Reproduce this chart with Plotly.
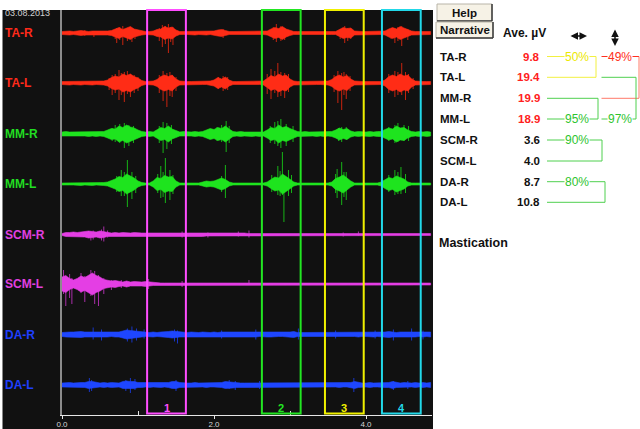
import numpy as np
import plotly.graph_objects as go

# ---------------------------------------------------------------- data ----
DATE = "03.08.2013"
DT = 0.05  # spacing of the envelope samples, seconds

CHANNELS = ["TA-R", "TA-L", "MM-R", "MM-L", "SCM-R", "SCM-L", "DA-R", "DA-L"]

# half-width of the dense part of each EMG trace, one value every DT seconds
TA_R_ENV = [1.5, 2, 2, 1.5, 2, 2.5, 2, 1.5, 2, 2,
            1.5, 2, 2, 2.5, 4, 5.5, 3.5, 5, 6.5, 4,
            3, 2, 1.5, 1.5, 2, 3.5, 4, 6.5, 5, 6,
            3, 1.5, 1.5, 1.5, 1.5, 2, 1.5, 1.5, 2, 1.5,
            2, 3, 3.5, 2.5, 1.5, 1.5, 1.5, 1.5, 1.5, 1.5,
            1.5, 1.5, 1.5, 1.5, 2, 4, 5.5, 4.5, 6.5, 4,
            2.5, 1.5, 1.5, 1.5, 1.5, 1.5, 1.5, 1.5, 1.5, 1.5,
            1.5, 1.5, 1.5, 3.5, 5.5, 4.5, 5, 2, 1.5, 1.5,
            1.5, 1.5, 1.5, 1.5, 1.5, 2, 4, 5.5, 4, 6.5,
            5, 3.5, 2, 1.5, 1.5, 1.5, 1.5, 1.5]
TA_L_ENV = [1.5, 1.5, 2, 1.5, 1.5, 2, 1.5, 1.5, 2, 1.5,
            1.5, 2, 3, 5.5, 7, 6, 9, 7.5, 9, 6.5,
            5, 2.5, 1.5, 1.5, 2, 3.5, 6.5, 8, 6.5, 8,
            4, 2, 1.5, 1.5, 1.5, 1.5, 1.5, 1.5, 1.5, 2,
            3, 5.5, 4, 6, 3, 1.5, 1.5, 1.5, 1.5, 1.5,
            1.5, 1.5, 1.5, 2, 4.5, 7.5, 6, 9, 7, 8,
            4, 2, 1.5, 1.5, 1.5, 1.5, 1.5, 1.5, 1.5, 1.5,
            2, 3.5, 6.5, 8, 6, 7.5, 4, 2, 1.5, 1.5,
            1.5, 1.5, 1.5, 1.5, 1.5, 3, 6.5, 8, 6.5, 9,
            7, 8, 4, 2, 1.5, 1.5, 1.5, 1.5]
MM_R_ENV = [2, 2.5, 2, 2, 2.5, 2, 2, 2.5, 2, 2.5,
            2, 2.5, 4, 5.5, 5, 8, 6.5, 9, 7, 6,
            4, 2.5, 2, 2.5, 2, 4, 6.5, 5.5, 8, 5,
            3.5, 2, 2.5, 2, 2, 2.5, 2, 2.5, 4, 5.5,
            4.5, 6.5, 5.5, 8, 5, 2.5, 2, 2.5, 2, 2,
            2.5, 2, 2.5, 2, 4, 6.5, 5.5, 9, 6.5, 7.5,
            5.5, 4, 2.5, 2, 2.5, 2, 2, 2.5, 2, 2.5,
            2, 2.5, 4, 6, 4.5, 5.5, 3, 2, 2.5, 2,
            2, 2.5, 2, 2.5, 2.5, 4.5, 6, 5, 8, 6,
            6.5, 4, 2.5, 2, 2.5, 2, 2.5, 2]
MM_L_ENV = [1, 1, 1, 1, 1, 1.5, 1, 1, 1.5, 1,
            1, 1.5, 2, 3.5, 5, 7.5, 6.5, 10, 8, 6,
            3, 1.5, 1, 1, 3, 6.5, 5.5, 8.5, 7, 7.5,
            3, 1, 1, 1, 1, 1, 1, 2, 3, 2.5,
            3, 4.5, 6, 4.5, 2, 1, 1, 1, 1, 1,
            1, 1, 1, 1, 2, 4.5, 7, 6, 10, 7.5,
            5, 2, 1, 1, 1, 1, 1, 1, 1, 1,
            1, 2, 5.5, 7, 9, 6, 3, 1, 1, 1,
            1, 1, 1, 1, 2, 4.5, 6.5, 5.5, 8, 6.5,
            5, 2, 1, 1, 1, 1, 1, 1]
SCM_R_ENV = [1, 2, 2, 2.5, 2, 2.5, 2.5, 3.5, 3, 2.5,
             3.5, 3, 2, 1.5, 2, 1.5, 2, 1.5, 1.5, 2,
             1.5, 1.5, 1.5, 1.5, 1.5, 1.5, 1.5, 1.5, 1.5, 1.5,
             1.5, 1.5, 1.5, 1.5, 1.5, 1.5, 2, 2, 1.5, 1.5,
             1.5, 1.5, 1.5, 1.5, 1.5, 1.5, 1.5, 1.5, 1.5, 1,
             1, 1, 1, 1, 1, 1, 1, 1, 1, 1,
             1, 1, 1, 1, 1, 1, 1, 1, 1, 1,
             1, 1, 1, 1, 1, 1, 1, 1, 1, 1,
             1, 1, 1, 1, 1, 1, 1, 1, 1, 1,
             1, 1, 1, 1, 1, 1, 1, 1]
SCM_L_ENV = [7, 8.5, 5.5, 4, 5.5, 8, 6.5, 9, 11, 8.5,
             7, 4.5, 4, 3, 3.5, 2.5, 2, 3, 2, 2.5,
             2, 2, 2.5, 2, 1.5, 1, 1, 1, 1, 1,
             1, 1.5, 1.5, 1, 1, 1, 1, 1, 1, 1,
             1, 1, 1, 1, 1, 1, 1, 1, 1.5, 1,
             1, 1, 1, 1, 1, 1, 1, 1, 1, 1,
             1, 1, 1, 1, 1, 1, 1, 1, 1, 1,
             1, 1, 1, 1, 1, 1, 1, 1, 1, 1,
             1, 1, 1, 1, 1, 1, 1, 1, 1, 1,
             1, 1, 1, 1, 1, 1, 1, 1]
DA_R_ENV = [2, 2.5, 2.5, 2.5, 3, 3, 2.5, 2.5, 2.5, 2,
            2, 2.5, 2.5, 2, 2.5, 2.5, 3.5, 4.5, 4, 3.5,
            3, 2.5, 2, 2, 2.5, 2, 2.5, 2.5, 3, 3.5,
            3, 2.5, 2, 2, 2.5, 2, 2, 2.5, 2, 2,
            2.5, 2, 2.5, 2.5, 2, 2, 2, 2.5, 2, 2,
            2.5, 2.5, 2, 2, 2.5, 2.5, 2.5, 2, 2, 2.5,
            2.5, 3, 2, 2, 2, 2.5, 2, 2, 2, 2,
            2, 2.5, 2, 2.5, 2, 2, 2, 2, 2.5, 2,
            2, 2, 2.5, 2, 2, 2.5, 3, 2.5, 2, 2.5,
            2.5, 2, 2.5, 2.5, 2, 2.5, 2, 2.5]
DA_L_ENV = [2, 2.5, 2.5, 2, 2.5, 2.5, 2.5, 3.5, 3.5, 2.5,
            2, 2.5, 2, 2.5, 2.5, 2, 3.5, 4, 3.5, 3.5,
            2.5, 2.5, 2, 2.5, 2, 2, 2.5, 2, 2.5, 3.5,
            3.5, 2.5, 2, 2, 2, 2.5, 2, 2, 2.5, 2,
            2, 2, 2.5, 3.5, 3, 3, 2.5, 2, 2, 2,
            2, 2.5, 2.5, 2, 2, 2, 2.5, 2, 2, 2,
            2.5, 2, 2, 2, 2.5, 2, 2, 2, 2, 2.5,
            2, 2, 2, 2.5, 2, 2, 2.5, 3.5, 2.5, 2,
            2, 2.5, 2, 2, 2, 2.5, 2.5, 3.5, 2.5, 2,
            2.5, 2, 2, 2.5, 2, 2.5, 2, 2.5]

# isolated peaks: (time s, excursion above, excursion below)
TA_R_SPIKES = [(0.30, 3, 3), (0.42, 2, 4), (0.70, 4, 6), (0.72, 5, 10), (0.76, 6, 7),
               (0.80, 7, 12), (0.86, 5, 8), (0.92, 4, 9), (0.96, 3, 6), (1.28, 5, 8),
               (1.32, 8, 14), (1.36, 7, 11), (1.40, 9, 20), (1.43, 6, 9), (1.46, 6, 12),
               (2.12, 4, 5), (2.78, 6, 7), (2.82, 9, 9), (2.88, 7, 8), (2.93, 5, 7),
               (3.66, 4, 6), (3.72, 7, 10), (3.76, 5, 8), (3.80, 4, 6), (4.33, 4, 6),
               (4.38, 5, 10), (4.42, 6, 8), (4.47, 7, 13), (4.55, 4, 7)]
TA_L_SPIKES = [(0.62, 5, 7), (0.66, 8, 12), (0.70, 9, 10), (0.75, 13, 17), (0.78, 10, 12),
               (0.82, 11, 19), (0.86, 12, 11), (0.90, 9, 14), (0.95, 8, 10), (1.00, 6, 8),
               (1.28, 8, 10), (1.33, 12, 18), (1.38, 10, 24), (1.42, 11, 13), (1.45, 8, 14),
               (1.50, 6, 8), (2.06, 6, 6), (2.12, 7, 8), (2.18, 6, 7), (2.70, 9, 11),
               (2.75, 14, 16), (2.80, 12, 10), (2.84, 20, 14), (2.88, 11, 13), (2.93, 10, 15),
               (2.98, 9, 9), (3.58, 8, 9), (3.63, 12, 20), (3.68, 10, 27), (3.71, 11, 12),
               (3.74, 9, 16), (3.79, 7, 8), (4.30, 9, 10), (4.38, 12, 14), (4.42, 11, 12),
               (4.47, 20, 12), (4.52, 11, 17), (4.56, 9, 10), (4.62, 5, 6)]
MM_R_SPIKES = [(0.66, 6, 7), (0.70, 9, 8), (0.76, 10, 9), (0.82, 11, 14), (0.88, 9, 12),
               (0.94, 8, 9), (1.28, 8, 9), (1.33, 12, 19), (1.38, 11, 15), (1.44, 9, 10),
               (2.04, 7, 7), (2.10, 9, 8), (2.16, 13, 18), (2.20, 8, 9), (2.74, 8, 9),
               (2.80, 12, 10), (2.84, 13, 12), (2.88, 15, 14), (2.95, 10, 12), (3.04, 8, 8),
               (3.64, 6, 7), (3.68, 7, 8), (3.74, 7, 6), (4.30, 7, 7), (4.38, 9, 9),
               (4.42, 11, 8), (4.50, 9, 7), (4.56, 8, 7)]
MM_L_SPIKES = [(0.72, 8, 8), (0.78, 14, 12), (0.82, 12, 12), (0.86, 24, 23), (0.92, 12, 15),
               (0.97, 8, 9), (1.26, 10, 9), (1.30, 18, 14), (1.33, 12, 13), (1.36, 26, 19),
               (1.42, 14, 16), (1.46, 9, 10), (2.10, 8, 8), (2.15, 19, 14), (2.76, 9, 8),
               (2.84, 18, 11), (2.87, 13, 12), (2.90, 32, 11), (2.92, 6, 38), (2.98, 14, 12),
               (3.02, 9, 9), (3.60, 10, 9), (3.62, 15, 14), (3.68, 22, 21), (3.71, 12, 13),
               (3.74, 12, 16), (4.30, 9, 8), (4.38, 14, 11), (4.42, 12, 10), (4.46, 17, 10),
               (4.52, 10, 9)]
SCM_R_SPIKES = [(0.38, 3, 6), (0.41, 4, 5), (0.52, 5, 6), (0.55, 8, 7), (0.60, 4, 3),
                (1.12, 3, 2), (1.58, 3, 3), (1.92, 2, 3), (2.32, 3, 2), (2.46, 4, 3),
                (3.70, 2, 2), (3.90, 3, 1)]
SCM_L_SPIKES = [(0.02, 14, 10), (0.05, 8, 22), (0.10, 10, 14), (0.13, 6, 20), (0.25, 11, 9),
                (0.30, 8, 18), (0.38, 14, 12), (0.43, 13, 20), (0.48, 9, 22), (0.55, 6, 10),
                (0.65, 4, 6), (0.78, 4, 4), (1.14, 5, 5), (1.58, 3, 3), (2.46, 4, 1)]
DA_R_SPIKES = [(0.41, 7, 5), (0.52, 5, 6), (0.86, 6, 7), (0.92, 8, 8), (0.98, 6, 6),
               (1.08, 5, 4), (1.48, 5, 7), (1.52, 4, 9), (2.10, 4, 4), (2.55, 5, 5),
               (3.11, 6, 5), (3.60, 4, 4), (4.12, 4, 4), (4.36, 5, 6), (4.60, 6, 6),
               (4.75, 4, 5)]
DA_L_SPIKES = [(0.36, 7, 7), (0.39, 5, 6), (0.84, 5, 6), (0.90, 7, 8), (0.96, 6, 5),
               (1.50, 5, 6), (2.20, 5, 4), (2.28, 4, 5), (2.60, 4, 4), (3.84, 7, 7),
               (4.36, 4, 5), (4.55, 4, 4)]

# analysis windows
WINDOW_STARTS = [1.12, 2.63, 3.46, 4.21]
WINDOW_LEN = 0.51
WINDOW_LABELS = ["1", "2", "3", "4"]

# time axis ticks
TICK_VALS = [0, 2, 4]
MINOR_TICK_VALS = [1, 3]

# side panel: mean amplitude per channel and symmetry indices
AVE_UV = [9.8, 19.4, 19.9, 18.9, 3.6, 4.0, 8.7, 10.8]
LR_PAIRS = [(0, 1), (2, 3), (4, 5), (6, 7)]        # left / right
LR_PCT = [50, 95, 90, 80]
TB_PAIRS = [(0, 2), (1, 3)]                        # TA vs MM
TB_PCT = [49, 97]
TASK = "Mastication"

# --------------------------------------------------------------- style ----
FONT = "Liberation Sans, Arial, sans-serif"
DARK = "#111111"
W, H = 640, 429
LEFT, RIGHT, TOP, BOTTOM = 62, 432, 10, 415      # plot area in pixels
PX_PER_S = 76.0
X_MAX = (RIGHT - LEFT) / PX_PER_S
ROW_PX = [33, 83, 134, 184, 234.5, 284, 334.5, 385]

TRACE_COL = {"TA": "#ff2c16", "MM": "#1ee41e", "SCM": "#e43ee4", "DA": "#1e46ff"}
SPIKE_COL = {"TA": "#c8240f", "MM": "#17b417", "SCM": "#a82ea8", "DA": "#1836c8"}
LABEL_COL = {"TA": "#ff2a1a", "MM": "#22dd22", "SCM": "#e040e0", "DA": "#1f3fff"}
WINDOW_COL = ["#ff4dff", "#22e622", "#f0f000", "#22d8e8"]

ENVS = [TA_R_ENV, TA_L_ENV, MM_R_ENV, MM_L_ENV, SCM_R_ENV, SCM_L_ENV, DA_R_ENV, DA_L_ENV]
SPIKES = [TA_R_SPIKES, TA_L_SPIKES, MM_R_SPIKES, MM_L_SPIKES,
          SCM_R_SPIKES, SCM_L_SPIKES, DA_R_SPIKES, DA_L_SPIKES]


def px(x):
    return (x - LEFT) / (RIGHT - LEFT)


def py(y):
    return (BOTTOM - y) / (BOTTOM - TOP)


def group(name):
    return name.split("-")[0]


fig = go.Figure()

# ---------------------------------------------------------------- traces ----
for name, env, spikes, row in zip(CHANNELS, ENVS, SPIKES, ROW_PX):
    g = group(name)
    base = -(row - TOP)
    env = np.asarray(env, dtype=float)
    t = np.arange(len(env)) * DT
    sx, sy = [], []
    for ts, up, dn in spikes:
        sx += [ts, ts, None]
        sy += [base + up, base - dn, None]
    fig.add_trace(go.Scatter(x=sx, y=sy, mode="lines",
                             line=dict(color=SPIKE_COL[g], width=1),
                             hoverinfo="skip", showlegend=False))
    fig.add_trace(go.Scatter(x=np.concatenate([t, t[::-1]]),
                             y=np.concatenate([base + env, (base - env)[::-1]]),
                             mode="lines", fill="toself", fillcolor=TRACE_COL[g],
                             line=dict(color=TRACE_COL[g], width=0.6),
                             hoverinfo="skip", showlegend=False))

shapes = []
annotations = []


def note(x, y, text, size, color, xanchor="center", yanchor="middle",
         xref="paper", yref="paper", **kw):
    annotations.append(dict(x=x, y=y, xref=xref, yref=yref, text=text,
                            showarrow=False, xanchor=xanchor, yanchor=yanchor,
                            font=dict(family=FONT, size=size, color=color), **kw))


# dark recording panel beyond the plot area (channel names, time labels)
shapes.append(dict(type="rect", xref="paper", yref="paper", layer="below",
                   x0=px(2.5), x1=px(433), y0=py(H + 5), y1=py(TOP),
                   fillcolor=DARK, line=dict(width=0)))

# analysis windows
for start, lab, col in zip(WINDOW_STARTS, WINDOW_LABELS, WINDOW_COL):
    shapes.append(dict(type="rect", xref="x", yref="paper",
                       x0=start, x1=start + WINDOW_LEN, y0=py(413.5), y1=1.0,
                       line=dict(color=col, width=2), fillcolor="rgba(0,0,0,0)"))
    note(start + WINDOW_LEN / 2, py(408), f"<b>{lab}</b>", 11, col, xref="x")

# channel names on the left
for name, row in zip(CHANNELS, ROW_PX):
    note(px(3), -(row - TOP), f"<b>{name}</b>", 12, LABEL_COL[group(name)],
         xanchor="left", yref="y")

note(px(3), py(13.5), DATE, 9, "#d0d0d0", xanchor="left")

# ------------------------------------------------------------ side panel ----
def button(x0, x1, y0, y1, label, yc):
    shapes.append(dict(type="rect", xref="paper", yref="paper",
                       x0=px(x0), x1=px(x1), y0=py(y1), y1=py(y0),
                       fillcolor="#f6f2e6", line=dict(color="#b8b4a8", width=1)))
    shapes.append(dict(type="line", xref="paper", yref="paper",
                       x0=px(x0), x1=px(x1), y0=py(y1), y1=py(y1),
                       line=dict(color="#3a3a3a", width=1.5)))
    shapes.append(dict(type="line", xref="paper", yref="paper",
                       x0=px(x1), x1=px(x1), y0=py(y1), y1=py(y0),
                       line=dict(color="#3a3a3a", width=1.5)))
    note(px((x0 + x1) / 2), py(yc), f"<b>{label}</b>", 11.5, "#111111")


button(437, 492, 4, 21, "Help", 13)
button(436, 493, 22, 38, "Narrative", 30.5)

note(px(501), py(32.5), "<b>Ave. µV</b>", 12, "#111111", xanchor="left")

# direction symbols: left/right and up/down comparison columns
annotations.append(dict(x=px(587), y=py(36), xref="paper", yref="paper", text="",
                        showarrow=True, ax=-18, ay=0, arrowside="end+start",
                        arrowhead=2, arrowsize=1, arrowwidth=1.5, arrowcolor="#111111",
                        standoff=0, startstandoff=0))
annotations.append(dict(x=px(615), y=py(46), xref="paper", yref="paper", text="",
                        showarrow=True, ax=0, ay=-18, arrowside="end+start",
                        arrowhead=2, arrowsize=1, arrowwidth=1.5, arrowcolor="#111111",
                        standoff=0, startstandoff=0))

RP_ROWS = [56.5, 77.3, 98.3, 119, 140, 161, 181.7, 202.3]
VALUE_COL = {"TA": "#ff2020", "MM": "#ff2020", "SCM": "#111111", "DA": "#111111"}
for name, val, yr in zip(CHANNELS, AVE_UV, RP_ROWS):
    note(px(437.5), py(yr), f"<b>{name}</b>", 11.5, "#111111", xanchor="left")
    note(px(542), py(yr), f"<b>{val:.1f}</b>", 11.5, VALUE_COL[group(name)],
         xanchor="right")

note(px(437), py(243), f"<b>{TASK}</b>", 12.5, "#111111", xanchor="left")


def pct_colors(p):
    if p >= 80:
        return "#2ec42e", "#4fd04f"
    if p >= 50:
        return "#ece800", "#f2f040"
    return "#ff3020", "#ff7a6a"


def hline(x0, x1, y, col):
    shapes.append(dict(type="line", xref="paper", yref="paper",
                       x0=px(x0), x1=px(x1), y0=py(y), y1=py(y),
                       line=dict(color=col, width=1)))


def vline(x, y0, y1, col):
    shapes.append(dict(type="line", xref="paper", yref="paper",
                       x0=px(x), x1=px(x), y0=py(y0), y1=py(y1),
                       line=dict(color=col, width=1)))


def bracket(ya, yb, x0, x1, label_at, label_x, pct):
    tcol, lcol = pct_colors(pct)
    hline(x0, x1, ya, tcol if pct < 50 else lcol)
    hline(x0, x1, yb, lcol)
    vline(x1, ya, yb, lcol)
    ly = ya if label_at == "top" else yb
    note(px(label_x), py(ly), f"{pct}%", 12, tcol, bgcolor="white", borderpad=0)


LR_X1 = [596, 598, 602, 605]
LR_LABEL = ["top", "bottom", "top", "top"]
for (a, b), p, x1, where in zip(LR_PAIRS, LR_PCT, LR_X1, LR_LABEL):
    bracket(RP_ROWS[a], RP_ROWS[b], 547, x1, where, 576.5, p)

TB_X1 = [639, 636]
TB_LABEL = ["top", "bottom"]
for (a, b), p, x1, where in zip(TB_PAIRS, TB_PCT, TB_X1, TB_LABEL):
    bracket(RP_ROWS[a], RP_ROWS[b], 601.5, x1, where, 620, p)

# ---------------------------------------------------------------- layout ----
fig.update_layout(
    width=W, height=H,
    margin=dict(l=LEFT, r=W - RIGHT, t=TOP, b=H - BOTTOM, pad=0, autoexpand=False),
    paper_bgcolor="white", plot_bgcolor=DARK,
    showlegend=False,
    shapes=shapes, annotations=annotations,
    font=dict(family=FONT),
    xaxis=dict(range=[0, X_MAX], showgrid=False, zeroline=False, automargin=False,
               showline=True, linecolor="#e6e6e6", linewidth=1,
               tickvals=TICK_VALS, ticktext=[f"{v:.1f}" for v in TICK_VALS],
               ticks="outside", ticklen=3, tickcolor="#e6e6e6", tickwidth=1,
               ticklabelstandoff=-2,
               tickfont=dict(family=FONT, size=8, color="#d6d6d6"),
               minor=dict(tickvals=MINOR_TICK_VALS, ticks="inside", ticklen=4,
                          tickcolor="#e6e6e6", tickwidth=1)),
    yaxis=dict(range=[-(BOTTOM - TOP), 0], showgrid=False, zeroline=False,
               automargin=False, showticklabels=False, ticks="", showline=True,
               linecolor="#8c8c8c", linewidth=2),
)

fig.write_html("out.html")
